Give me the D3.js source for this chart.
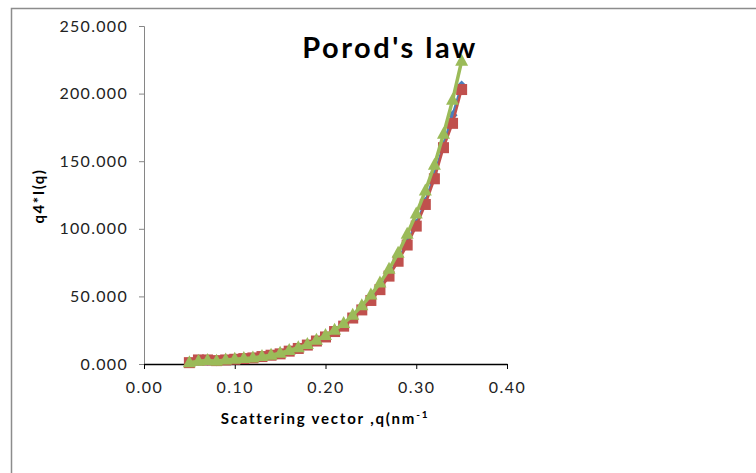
<!DOCTYPE html>
<html><head><meta charset="utf-8">
<script src="https://cdn.jsdelivr.net/npm/d3@7"></script>
<style>body{margin:0;background:#fff}svg{display:block}</style>
</head><body>
<script>
const qValues = [0.05,0.06,0.07,0.08,0.09,0.10,0.11,0.12,0.13,0.14,0.15,0.16,0.17,0.18,0.19,0.20,0.21,0.22,0.23,0.24,0.25,0.26,0.27,0.28,0.29,0.30,0.31,0.32,0.33,0.34,0.35];
const blueSeries = [1,2.5,2.5,2,3,3.5,4,4.5,5.5,6.5,7.5,9.5,11.5,14,17,20,24,28.5,34.5,40.5,48,56,66,77,90,104,120,140,162,184,206];
const redSeries = [1,3,3,2.5,3,3.5,4,4.5,5.5,6.5,7.5,9.5,11.5,14,17,20,24,28,34,40,47,55,65,76,88,102,118,137,160,178,203];
const greenSeries = [1,2,2.5,2,3,3.5,4,4.5,5.5,6.5,8,10,12,14.5,17.5,21,25,30,36,43,51,60,70,82,96,111,128,147,170,195,224];
const xTicks = [0,0.1,0.2,0.3,0.4];
const yTicks = [0,50,100,150,200,250];

const W=756,H=473;
const svg=d3.select("body").append("svg").attr("width",W).attr("height",H);
svg.append("rect").attr("width",W).attr("height",H).attr("fill","#fff");
svg.append("path").attr("d","M11.5,"+H+"V8.5H"+W).attr("fill","none").attr("stroke","#8c8c8c").attr("stroke-width",1.5);

const x=d3.scaleLinear().domain([0,0.4]).range([144,507]);
const y=d3.scaleLinear().domain([0,250]).range([364,26]);
const font="Lato, 'Open Sans', sans-serif";

const ya=svg.append("g").attr("transform","translate(144,0)").call(d3.axisLeft(y).tickValues(yTicks).tickSize(5).tickFormat(d3.format(".3f")));
ya.select(".domain").attr("stroke","#868686");
ya.selectAll(".tick line").attr("stroke","#868686");
ya.selectAll(".tick text").attr("font-family",font).attr("font-size",16).attr("letter-spacing","1.3px").attr("fill","#222").attr("x",-16);

const xa=svg.append("g").attr("transform","translate(0,364)").call(d3.axisBottom(x).tickValues(xTicks).tickSize(5).tickSizeOuter(0).tickFormat(d3.format(".2f")));
xa.select(".domain").attr("stroke","#000").attr("stroke-width",1.3);
xa.selectAll(".tick line").attr("stroke","#000");
xa.selectAll(".tick text").attr("font-family",font).attr("font-size",16).attr("letter-spacing","1.5px").attr("fill","#222").attr("dy","1.3em");

const pts=s=>qValues.map((q,i)=>[x(q),y(s[i])]);
const line=d3.line();

svg.append("path").attr("d",line(pts(blueSeries))).attr("fill","none").attr("stroke","#4a7ebb").attr("stroke-width",2.5);
svg.append("g").selectAll("path").data(pts(blueSeries)).join("path")
  .attr("d",d=>`M${d[0]},${d[1]-5}L${d[0]+5},${d[1]}L${d[0]},${d[1]+5}L${d[0]-5},${d[1]}Z`).attr("fill","#4a7ebb");
svg.append("path").attr("d",line(pts(redSeries))).attr("fill","none").attr("stroke","#c0504d").attr("stroke-width",2.5);
svg.append("g").selectAll("rect").data(pts(redSeries)).join("rect")
  .attr("x",d=>d[0]-5.5).attr("y",d=>d[1]-5.5).attr("width",11).attr("height",11).attr("fill","#c0504d");
svg.append("path").attr("d",line(pts(greenSeries))).attr("fill","none").attr("stroke","#9bbb59").attr("stroke-width",3.5);
svg.append("g").selectAll("path").data(pts(greenSeries)).join("path")
  .attr("d",d=>`M${d[0]},${d[1]-7.5}L${d[0]+6.5},${d[1]+4.5}L${d[0]-6.5},${d[1]+4.5}Z`).attr("fill","#9bbb59");

svg.append("text").attr("x",390).attr("y",58).attr("text-anchor","middle").attr("font-family",font).attr("font-weight","bold").attr("font-size",29).attr("letter-spacing","2.5px").attr("fill","#000").text("Porod's law");
svg.append("text").attr("transform","translate(44,196) rotate(-90)").attr("text-anchor","middle").attr("font-family",font).attr("font-weight","bold").attr("font-size",15).attr("letter-spacing","1.5px").attr("fill","#000").text("q4*I(q)");
const xl=svg.append("text").attr("x",325).attr("y",424).attr("text-anchor","middle").attr("font-family",font).attr("font-weight","bold").attr("font-size",15).attr("letter-spacing","1.8px").attr("fill","#000");
xl.append("tspan").text("Scattering vector ,q(nm");
xl.append("tspan").attr("dy",-6).attr("font-size",10).text("-1");
</script>
</body></html>
